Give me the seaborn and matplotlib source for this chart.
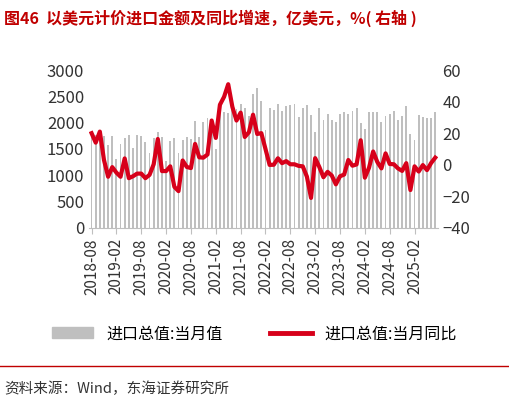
import numpy as np, pandas as pd, matplotlib
matplotlib.use("Agg")
import matplotlib.pyplot as plt
import seaborn as sns

dates = pd.date_range("2018-08-01", "2025-07-01", freq="MS")
imports = [1791,1773,1645,1737,1579,
 1750,1311,1585,1706,1767,1509,1757,1742,1637,1421,1706,1828,
 1720,1280,1655,1703,1426,1676,1728,1695,2027,1728,2004,2092,
 2066,1500,2293,2206,2183,2356,2266,2363,2275,2133,2550,2654,
 2418,1862,2284,2238,2358,2215,2308,2335,2358,2110,2285,2331,
 2150,1820,2270,2045,2164,2050,2010,2162,2197,2166,2230,2283,
 2000,1870,2211,2209,2203,2009,2122,2161,2217,2054,2131,2310,
 1780,1670,2147,2109,2084,2093,2203]
yoy = [20,14,21,3,-7.6,
 -1.5,-5,-7.6,4,-8.5,-7.3,-5.6,-5.6,-8.5,-6.4,0.3,16.3,
 -4,-4,-1,-14,-16.7,2.7,-1.4,-2.1,13.2,4.7,4.5,6.5,
 28,17,38,43,51,36.7,28,33,17.6,20.6,31.7,19.5,
 20,10,-0.1,0,4.1,1,2.3,0.3,0.3,-0.7,-1,-7.5,
 -21,4.2,-1.4,-7.9,-4.5,-6.8,-12.4,-7.3,-6.2,3,-0.6,0.2,
 15.5,-8.2,-1.9,8.4,1.8,-2.3,7.2,0.5,0.3,-2.3,-3.9,1,
 -16,-1,-4.3,-0.2,-3.4,1.1,4.5]
df = pd.DataFrame({"i": np.arange(len(dates)), "imp": imports, "yoy": yoy})
labels = [d.strftime("%Y-%m") for d in dates]

plt.rcParams['font.family'] = ['Noto Sans CJK SC', 'DejaVu Sans']
fig = plt.figure(figsize=(5.09, 4.07), dpi=100)
ax = fig.add_axes([0.175, 0.44, 0.685, 0.388])
sns.barplot(data=df, x="i", y="imp", color="#BFBFBF", width=0.45, ax=ax, saturation=1)
ax2 = ax.twinx()
sns.lineplot(data=df, x="i", y="yoy", color="#D7001A", lw=3, ax=ax2)
ax.set_ylim(0, 3000); ax.set_yticks(range(0, 3001, 500))
ax2.set_ylim(-40, 60); ax2.set_yticks(range(-40, 61, 20))
ax.set_xlim(-0.6, len(dates) - 0.4)
ticks = list(range(0, len(dates), 6))
ax.set_xticks(ticks); ax.set_xticklabels([labels[t] for t in ticks], rotation=90)
for a in (ax, ax2):
    a.set_xlabel(""); a.set_ylabel("")
    for s in ("top", "left", "right"):
        a.spines[s].set_visible(False)
    a.tick_params(axis="y", length=0, labelsize=12, colors="#333333")
ax2.spines["bottom"].set_visible(False)
ax.spines["bottom"].set_color("#BFBFBF")
ax.tick_params(axis="x", labelsize=11, colors="#333333", color="#BFBFBF", length=4)
from matplotlib.patches import Patch
from matplotlib.lines import Line2D
fig.legend([Patch(color="#BFBFBF"), Line2D([], [], color="#D7001A", lw=3.5)],
           ["进口总值:当月值", "进口总值:当月同比"], loc="center", bbox_to_anchor=(0.5, 0.18),
           ncol=2, frameon=False, fontsize=11.5, handlelength=2.6, columnspacing=3)
fig.text(0.008, 0.955, "图46  以美元计价进口金额及同比增速，亿美元，%( 右轴 )",
         color="#C00000", fontsize=11.5, fontweight="bold", va="center")
fig.add_artist(Line2D([0.0, 1.0], [0.1, 0.1], color="#C00000", lw=1))
fig.text(0.008, 0.045, "资料来源：Wind，东海证券研究所", fontsize=10.5, color="#333333", va="center")
fig.savefig("out.png", dpi=100)
